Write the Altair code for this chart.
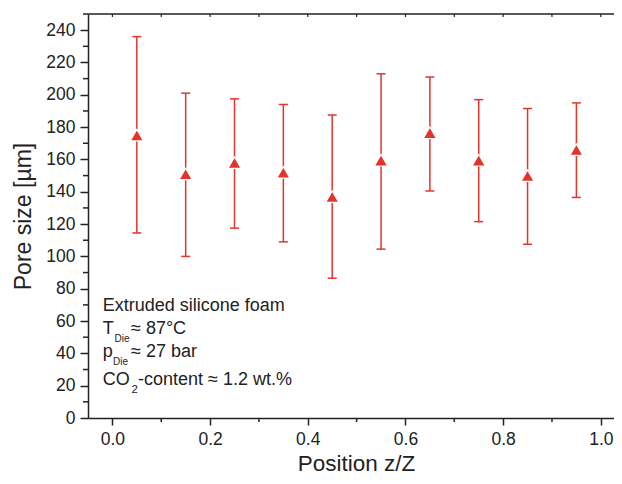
import altair as alt
import pandas as pd

# ---- data ----
positions = [0.05, 0.15, 0.25, 0.35, 0.45, 0.55, 0.65, 0.75, 0.85, 0.95]
mean_size = [175, 151, 158, 152, 137, 159.5, 176.5, 159.5, 150, 166]
upper_size = [236, 201, 197.5, 194, 187.5, 213, 211, 197, 191.5, 195]
lower_size = [114.5, 100, 117.5, 109, 86.5, 104.5, 140.5, 121.5, 107.5, 136.5]

x_major = [0.0, 0.2, 0.4, 0.6, 0.8, 1.0]
x_minor = [0.1, 0.3, 0.5, 0.7, 0.9]
x_all = [0.0, 0.1, 0.2, 0.3, 0.4, 0.5, 0.6, 0.7, 0.8, 0.9, 1.0]
y_major = list(range(0, 241, 20))
y_minor = list(range(10, 251, 20))

df = pd.DataFrame({"pos": positions, "mean": mean_size,
                   "upper": upper_size, "lower": lower_size})

RED = "#e3342b"
INK = "#222222"
FONT = "Liberation Sans"
W, H = 526, 404

xscale = alt.Scale(domain=[-0.05, 1.027], nice=False, zero=False)
yscale = alt.Scale(domain=[0, 250], nice=False, zero=False)

x_axis = alt.Axis(title="Position z/Z", values=x_major, format=".1f",
                  tickSize=7, labelPadding=5, titlePadding=5, grid=False,
                  labelOverlap=False, titleX=268, titleFontSize=22.5)
y_axis = alt.Axis(title="Pore size [µm]", values=y_major, format="d",
                  tickSize=8, labelPadding=5, titlePadding=10, grid=False,
                  labelOverlap=False)

X = lambda f: alt.X(f, scale=xscale, axis=x_axis)
Y = lambda f: alt.Y(f, scale=yscale, axis=y_axis)

base = alt.Chart(df)

bars = base.mark_rule(color=RED, strokeWidth=1.5).encode(
    x=X("pos:Q"), y=Y("lower:Q"), y2="upper:Q")
cap_hi = base.mark_tick(color=RED, thickness=1.5, size=9, orient="horizontal",
                        opacity=1).encode(x=X("pos:Q"), y=Y("upper:Q"))
cap_lo = base.mark_tick(color=RED, thickness=1.5, size=9, orient="horizontal",
                        opacity=1).encode(x=X("pos:Q"), y=Y("lower:Q"))
points = base.mark_point(shape="triangle-up", filled=True, size=175, fill=RED,
                         stroke="white", strokeWidth=1.2, opacity=1).encode(
    x=X("pos:Q"), y=Y("mean:Q"))

# minor ticks and frame top
y_minor_ticks = alt.Chart(pd.DataFrame({"v": y_minor})).mark_tick(
    color=INK, thickness=1.5, size=5, orient="horizontal", opacity=1
).encode(x=alt.value(-2.5), y=Y("v:Q"))
x_minor_ticks = alt.Chart(pd.DataFrame({"v": x_minor})).mark_tick(
    color=INK, thickness=1.5, size=4, orient="vertical", opacity=1
).encode(x=X("v:Q"), y=alt.value(H + 2))
top_ticks = alt.Chart(pd.DataFrame({"v": x_all})).mark_tick(
    color=INK, thickness=1.2, size=3, orient="vertical", opacity=1
).encode(x=X("v:Q"), y=alt.value(1.5))
top_line = alt.Chart(alt.Data(values=[{}])).mark_rule(
    color=INK, strokeWidth=1.5
).encode(x=alt.value(0), x2=alt.value(W), y=alt.value(0))


def label(text, px, py, size):
    return alt.Chart(alt.Data(values=[{}])).mark_text(
        align="left", baseline="alphabetic", font=FONT, fontSize=size, color=INK
    ).encode(x=alt.value(px), y=alt.value(py), text=alt.value(text))


notes = [
    label("Extruded silicone foam", 14.7, 296.7, 18),
    label("T", 14.7, 320.3, 18),
    label("Die", 26.5, 327.5, 10),
    label("≈ 87°C", 43, 320.3, 18),
    label("p", 14.7, 343.3, 18),
    label("Die", 25, 351, 10),
    label("≈ 27 bar", 43, 343.3, 18),
    label("CO", 14.7, 371, 18),
    label("2", 43.5, 379, 11.5),
    label("-content ≈ 1.2 wt.%", 50, 371, 18),
]

chart = alt.layer(
    bars, cap_hi, cap_lo, points, y_minor_ticks, x_minor_ticks, top_ticks,
    top_line, *notes
).properties(
    width=W, height=H,
    padding={"left": 80, "top": 6, "right": 0, "bottom": 58},
    autosize=alt.AutoSizeParams(type="none"),
).configure_view(stroke=None).configure_axis(
    domainColor=INK, domainWidth=1.5, tickColor=INK, tickWidth=1.5,
    labelFont=FONT, labelFontSize=17.5, labelColor=INK,
    titleFont=FONT, titleFontSize=23, titleFontWeight="normal", titleColor=INK,
)

chart.save("out.html", embed_options={"renderer": "svg", "actions": False})
